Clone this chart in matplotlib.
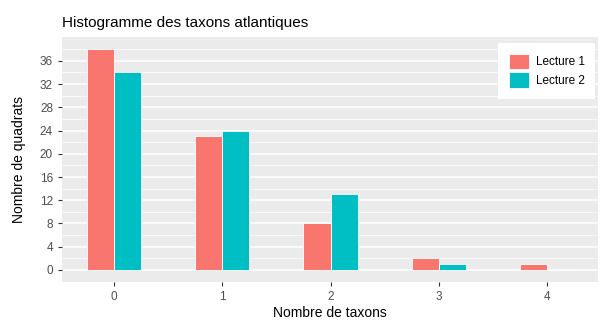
import numpy as np
import matplotlib.pyplot as plt

plt.rcParams['font.family'] = ['Liberation Sans', 'DejaVu Sans']

taxons = [0, 1, 2, 3, 4]
lecture1 = [38, 23, 8, 2, 1]
lecture2 = [34, 24, 13, 1, 0]
series = ['Lecture 1', 'Lecture 2']
colors = ['#F8766D', '#00BFC4']

fig = plt.figure(figsize=(6.01, 3.2), dpi=100)
ax = fig.add_axes([62 / 601, 1 - 282 / 320, 536 / 601, 245 / 320])
ax.set_facecolor('#EBEBEB')

x = np.array(taxons)
w = 0.25
ax.bar(x - w / 2, lecture1, width=w, color=colors[0], edgecolor='white', linewidth=0.6, label=series[0], zorder=3)
ax.bar(x + w / 2, lecture2, width=w, color=colors[1], edgecolor='white', linewidth=0.6, label=series[1], zorder=3)

ax.set_xlim(-0.48, 4.47)
ax.set_ylim(-2.07, 40.1)
ax.set_xticks(taxons)
ax.set_yticks(range(0, 37, 4))
ax.set_yticks(range(2, 40, 4), minor=True)
ax.grid(which='major', color='white', linewidth=1.1, zorder=0)
ax.grid(which='minor', axis='y', color='white', linewidth=0.5, zorder=0)
ax.grid(which='major', axis='x', visible=False)
for s in ax.spines.values():
    s.set_visible(False)
ax.tick_params(which='major', colors='#333333', labelcolor='#4D4D4D', labelsize=8.5, length=3, width=0.8)
ax.tick_params(which='minor', length=0)

ax.set_xlabel('Nombre de taxons', fontsize=10, color='black', labelpad=2)
ax.set_ylabel('Nombre de quadrats', fontsize=10, color='black', labelpad=10)
ax.set_title('Histogramme des taxons atlantiques', fontsize=11, loc='left', pad=7)

leg = ax.legend(loc='upper right', bbox_to_anchor=(1.006, 1.0), frameon=True, fancybox=False,
                edgecolor='white', facecolor='white', framealpha=1, fontsize=8.5,
                handlelength=1.7, handleheight=1.7, labelspacing=0.25, borderpad=0.9,
                handletextpad=0.6)
leg.get_frame().set_linewidth(0)

fig.savefig('out.png', dpi=100)
